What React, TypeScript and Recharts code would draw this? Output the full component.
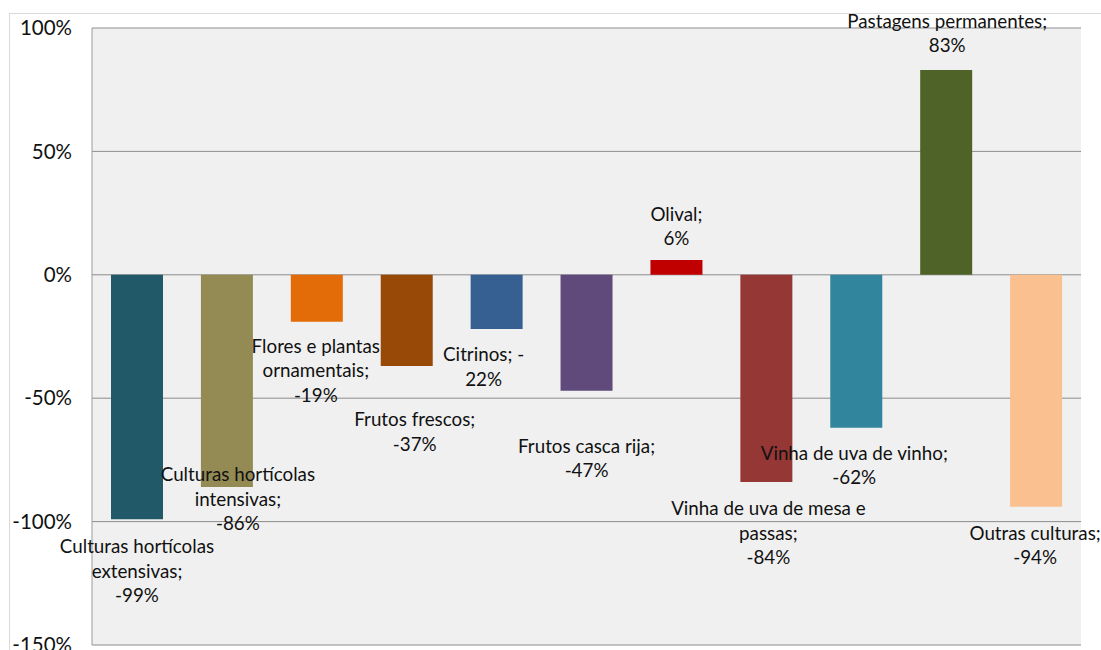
import { Bar, BarChart, CartesianGrid, Cell, LabelList, XAxis, YAxis } from "recharts"

const categories = [
  "Culturas hortícolas extensivas",
  "Culturas hortícolas intensivas",
  "Flores e plantas ornamentais",
  "Frutos frescos",
  "Citrinos",
  "Frutos casca rija",
  "Olival",
  "Vinha de uva de mesa e passas",
  "Vinha de uva de vinho",
  "Pastagens permanentes",
  "Outras culturas",
]

const changePct = [-99, -86, -19, -37, -22, -47, 6, -84, -62, 83, -94]

const labelLines = [
  ["Culturas hortícolas", "extensivas;", "-99%"],
  ["Culturas hortícolas", "intensivas;", "-86%"],
  ["Flores e plantas", "ornamentais;", "-19%"],
  ["Frutos frescos;", "-37%"],
  ["Citrinos; -", "22%"],
  ["Frutos casca rija;", "-47%"],
  ["Olival;", "6%"],
  ["Vinha de uva de mesa e", "passas;", "-84%"],
  ["Vinha de uva de vinho;", "-62%"],
  ["Pastagens permanentes;", "83%"],
  ["Outras culturas;", "-94%"],
]

const barColors = [
  "#215968", "#948A54", "#E36C09", "#984807", "#376092", "#604A7B",
  "#C00000", "#953735", "#31859C", "#4F6228", "#FAC090",
]

const yTicks = [-150, -100, -50, 0, 50, 100]

// manual label placement (like the moved Excel data labels): [dx, dy of first line from bar end]
const labelOffsets: [number, number][] = [
  [0, 26], [11, -14], [-1, 23], [8, 52], [-13, 24], [0, 54],
  [0, -47], [2, 25], [-2, 24], [1, -50], [-1, 25],
]

const data = categories.map((name, i) => ({ name, value: changePct[i] }))

const FONT = "Lato, 'Open Sans', sans-serif"

function BarLabel(props: any) {
  const { x, y, width, height, index } = props
  const v = changePct[index]
  const top = Math.min(y, y + height)
  const bottom = Math.max(y, y + height)
  const end = v >= 0 ? top : bottom
  const [dx, dy] = labelOffsets[index]
  const cx = x + width / 2 + dx
  return (
    <text
      x={cx}
      y={end + dy}
      textAnchor="middle"
      dominantBaseline="central"
      fontFamily={FONT}
      fontSize={18.8}
      fill="#111"
    >
      {labelLines[index].map((line, k) => (
        <tspan key={k} x={cx} dy={k === 0 ? 0 : 24.5}>
          {line}
        </tspan>
      ))}
    </text>
  )
}

export default function App() {
  return (
    <div style={{ position: "absolute", left: 0, top: 0, width: 1101, height: 650, background: "#fff", overflow: "hidden" }}>
      <div
        style={{
          position: "absolute",
          left: 9,
          top: 13,
          width: 1120,
          height: 660,
          border: "1px solid #d9d9d9",
        }}
      />
      <div style={{ position: "absolute", left: 0, top: 0 }}>
        <BarChart
          width={1101}
          height={650}
          data={data}
          margin={{ top: 28, right: 20, left: 0, bottom: 5 }}
          barSize={52}
        >
          <CartesianGrid vertical={false} stroke="#8c8c8c" fill="#f0f0f0" />
          <XAxis dataKey="name" hide />
          <YAxis
            domain={[-150, 100]}
            ticks={yTicks}
            width={92}
            tickLine={false}
            tickSize={0}
            tickMargin={20}
            axisLine={{ stroke: "#9a9a9a" }}
            tickFormatter={(v) => `${v}%`}
            tick={{ fontSize: 20.5, fill: "#111", fontFamily: FONT }}
            interval={0}
          />
          <Bar dataKey="value" isAnimationActive={false}>
            {data.map((d, i) => (
              <Cell key={d.name} fill={barColors[i]} />
            ))}
            <LabelList dataKey="value" content={BarLabel} />
          </Bar>
        </BarChart>
      </div>
    </div>
  )
}
